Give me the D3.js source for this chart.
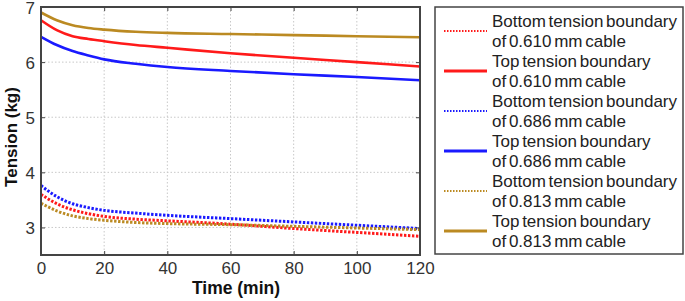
<!DOCTYPE html>
<html>
<head>
<meta charset="utf-8">
<script src="https://cdn.jsdelivr.net/npm/d3@7"></script>
<style>
  body { margin: 0; background: #fff; }
  svg { display: block; font-family: Arial, "Liberation Sans", sans-serif; }
  .grid line { stroke: #c8c8c8; stroke-dasharray: 1.5,2; }
</style>
</head>
<body>
<div id="chart"></div>
<script>
const timeMin = [0, 5, 10, 15, 20, 30, 40, 60, 80, 100, 120];
const bottom610 = [3.60, 3.43, 3.32, 3.25, 3.20, 3.15, 3.12, 3.06, 2.98, 2.91, 2.84];
const top610    = [6.76, 6.58, 6.47, 6.42, 6.38, 6.31, 6.26, 6.16, 6.08, 6.00, 5.92];
const bottom686 = [3.76, 3.56, 3.43, 3.36, 3.31, 3.26, 3.22, 3.16, 3.10, 3.04, 2.98];
const top686    = [6.46, 6.31, 6.20, 6.12, 6.05, 5.97, 5.91, 5.84, 5.78, 5.73, 5.67];
const bottom813 = [3.44, 3.30, 3.21, 3.16, 3.13, 3.09, 3.07, 3.05, 3.02, 2.99, 2.96];
const top813    = [6.90, 6.76, 6.67, 6.62, 6.59, 6.55, 6.53, 6.51, 6.49, 6.47, 6.45];

const xTicks = [0, 20, 40, 60, 80, 100, 120];
const yTicks = [3, 4, 5, 6, 7];

const series = [
  { label: ["Bottom tension boundary", "of 0.610 mm cable"], values: bottom610, color: "#ff1a1a", dotted: true },
  { label: ["Top tension boundary", "of 0.610 mm cable"], values: top610, color: "#ff1a1a", dotted: false },
  { label: ["Bottom tension boundary", "of 0.686 mm cable"], values: bottom686, color: "#1a1aff", dotted: true },
  { label: ["Top tension boundary", "of 0.686 mm cable"], values: top686, color: "#1a1aff", dotted: false },
  { label: ["Bottom tension boundary", "of 0.813 mm cable"], values: bottom813, color: "#bb8a22", dotted: true },
  { label: ["Top tension boundary", "of 0.813 mm cable"], values: top813, color: "#bb8a22", dotted: false }
];

const W = 685, H = 301;
const margin = { top: 7, right: 265, bottom: 46, left: 41 };
const width = W - margin.left - margin.right;
const height = H - margin.top - margin.bottom;

const svg = d3.select("#chart").append("svg").attr("width", W).attr("height", H);
const g = svg.append("g").attr("transform", `translate(${margin.left},${margin.top})`);

const x = d3.scaleLinear().domain([0, 120]).range([0, width]);
const y = d3.scaleLinear().domain([2.5, 7]).range([height, 0]);

// grid
g.append("g").attr("class", "grid")
  .selectAll("line").data(xTicks.slice(1, -1)).enter().append("line")
  .attr("x1", d => x(d)).attr("x2", d => x(d)).attr("y1", 0).attr("y2", height);
g.append("g").attr("class", "grid")
  .selectAll("line").data(yTicks.slice(0, -1)).enter().append("line")
  .attr("y1", d => y(d)).attr("y2", d => y(d)).attr("x1", 0).attr("x2", width);

// lines
const line = d3.line().x((d, i) => x(timeMin[i])).y(d => y(d)).curve(d3.curveMonotoneX);
series.forEach(s => {
  g.append("path").datum(s.values)
    .attr("d", line)
    .attr("fill", "none")
    .attr("stroke", s.color)
    .attr("stroke-width", s.dotted ? 3 : 2.6)
    .attr("stroke-dasharray", s.dotted ? "2.4,1.6" : null);
});

// axes with inward ticks
const xAxis = d3.axisBottom(x).tickValues(xTicks).tickSize(-4).tickPadding(7).tickSizeOuter(0);
const yAxis = d3.axisLeft(y).tickValues(yTicks).tickFormat(d3.format("d")).tickSize(-4).tickPadding(6).tickSizeOuter(0);

const gx = g.append("g").attr("transform", `translate(0,${height})`).call(xAxis);
const gy = g.append("g").call(yAxis);
[gx, gy].forEach(a => {
  a.select(".domain").remove();
  a.selectAll(".tick line").attr("stroke", "#444");
  a.selectAll(".tick text").style("font-size", "17px").attr("fill", "#333");
});
gy.selectAll(".tick text").attr("dy", "0.36em");

// top and right ticks
g.append("g")
  .call(d3.axisTop(x).tickValues(xTicks).tickSize(-4).tickFormat("").tickSizeOuter(0))
  .call(a => a.select(".domain").remove())
  .selectAll("line").attr("stroke", "#444");
g.append("g").attr("transform", `translate(${width},0)`)
  .call(d3.axisRight(y).tickValues(yTicks).tickSize(-4).tickFormat("").tickSizeOuter(0))
  .call(a => a.select(".domain").remove())
  .selectAll("line").attr("stroke", "#444");

// frame
g.append("rect").attr("width", width).attr("height", height)
  .attr("fill", "none").attr("stroke", "#444").attr("stroke-width", 2);

// axis labels
svg.append("text")
  .attr("x", 236).attr("y", 294)
  .attr("text-anchor", "middle")
  .style("font-size", "17.5px").style("font-weight", "bold").attr("fill", "#111")
  .text("Time (min)");
svg.append("text")
  .attr("transform", `translate(17,${margin.top + height / 2 + 6}) rotate(-90)`)
  .attr("text-anchor", "middle")
  .style("font-size", "17px").style("font-weight", "bold").attr("fill", "#111")
  .text("Tension (kg)");

// legend
const legend = svg.append("g").attr("transform", "translate(435,7)");
legend.append("rect").attr("width", 248).attr("height", 247)
  .attr("fill", "#fff").attr("stroke", "#444").attr("stroke-width", 1.5);

series.forEach((s, i) => {
  const row = legend.append("g").attr("transform", `translate(0,${24 + i * 40})`);
  row.append("line")
    .attr("x1", 9).attr("x2", 52).attr("y1", 0).attr("y2", 0)
    .attr("stroke", s.color)
    .attr("stroke-width", s.dotted ? 2 : 2.8)
    .attr("stroke-dasharray", s.dotted ? "1.5,1.5" : null);
  s.label.forEach((t, j) => {
    row.append("text")
      .attr("x", 57).attr("y", j * 20 - 4)
      .style("font-size", "17px").style("word-spacing", "-2px")
      .attr("fill", "#222")
      .text(t);
  });
});
</script>
</body>
</html>
